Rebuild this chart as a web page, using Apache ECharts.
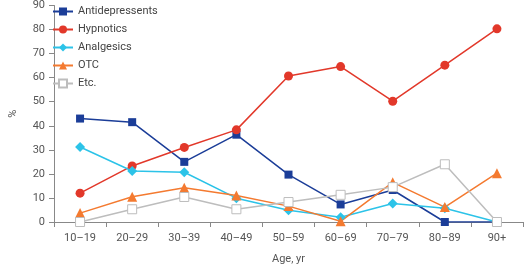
<!DOCTYPE html>
<html><head><meta charset="utf-8">
<script src="https://cdn.jsdelivr.net/npm/echarts@6/dist/echarts.min.js"></script>
<style>html,body{margin:0;padding:0;background:#fff}#c{width:524px;height:270px}</style>
</head><body><div id="c"></div>
<script>
var categories = ['10\u201319','20\u201329','30\u201339','40\u201349','50\u201359','60\u201369','70\u201379','80\u201389','90+'];
var antidepressents = [43, 41.5, 25, 36.3, 19.7, 7.3, 13.3, 0, 0];
var hypnotics = [12, 23.3, 31, 38.3, 60.7, 64.6, 50.2, 65.2, 80.3];
var analgesics = [31.2, 21.2, 20.7, 9.9, 4.9, 2, 7.7, 5.7, 0];
var otc = [3.7, 10.5, 14.2, 11, 6.6, 0.3, 16.5, 6.2, 20.3];
var etc = [0, 5.3, 10.4, 5.3, 8.3, 11.3, 14.5, 24, 0];
var yTicks = [0,10,20,30,40,50,60,70,80,90];

var font = 'Roboto';
function s(name, data, color, symbol, size, fill) {
  return {
    name: name, type: 'line', data: data, symbol: symbol, symbolSize: size,
    lineStyle: {color: color, width: 1.5},
    itemStyle: {color: fill || color, borderColor: color, borderWidth: fill ? 1 : 0},
    color: color
  };
}
var chart = echarts.init(document.getElementById('c'), null, {renderer: 'canvas'});
chart.setOption({
  animation: false,
  grid: {left: 44, right: 1, top: 5, bottom: 40},
  legend: {
    orient: 'vertical', left: 52, top: 6, padding: 0, itemGap: 7, itemWidth: 20, itemHeight: 10,
    textStyle: {fontFamily: font, fontSize: 11, color: '#444'},
    data: ['Antidepressents','Hypnotics','Analgesics','OTC','Etc.']
  },
  xAxis: {
    type: 'category', data: categories, boundaryGap: true,
    name: 'Age, yr', nameLocation: 'middle', nameGap: 32,
    nameTextStyle: {fontFamily: font, fontSize: 11, color: '#555'},
    axisLine: {lineStyle: {color: '#888', width: 1}},
    axisTick: {show: true, length: 5, inside: false, lineStyle: {color: '#888'}},
    axisLabel: {fontFamily: font, fontSize: 11, color: '#555', margin: 11}
  },
  yAxis: {
    type: 'value', min: 0, max: 90, interval: 10,
    name: '%', nameLocation: 'middle', nameGap: 35, nameRotate: 90,
    nameTextStyle: {fontFamily: font, fontSize: 11, color: '#555'},
    axisLine: {show: true, lineStyle: {color: '#888', width: 1}},
    axisTick: {show: true, length: 5, lineStyle: {color: '#888'}},
    splitLine: {show: false},
    axisLabel: {fontFamily: font, fontSize: 11, color: '#555', margin: 9,
      formatter: function(v){ return yTicks.indexOf(v) >= 0 ? String(v) : ''; }}
  },
  series: [
    s('Antidepressents', antidepressents, '#1b3d98', 'rect', 8),
    s('Hypnotics', hypnotics, '#e2382a', 'circle', 9),
    s('Analgesics', analgesics, '#2cc3e8', 'diamond', 10),
    s('OTC', otc, '#f47a30', 'triangle', 10),
    s('Etc.', etc, '#bdbdbd', 'rect', 9, '#ffffff')
  ]
});
</script></body></html>
